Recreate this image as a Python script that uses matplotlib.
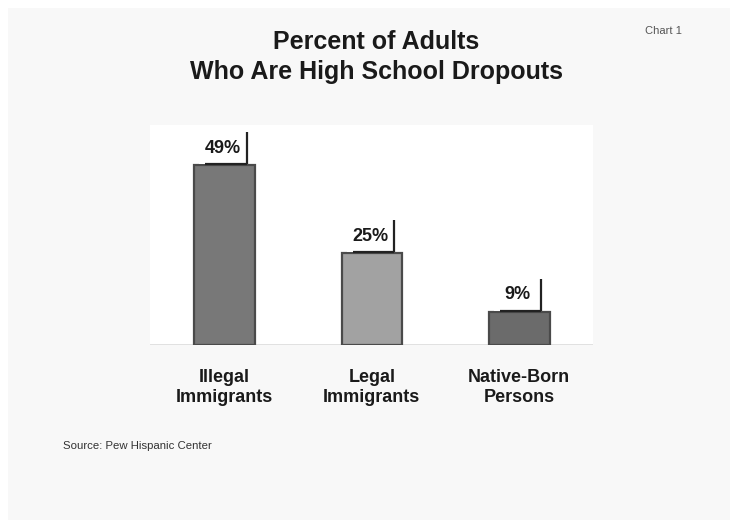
import matplotlib
matplotlib.use("Agg")
import matplotlib.pyplot as plt
from matplotlib.patches import Rectangle

plt.rcParams["font.family"] = ["Liberation Sans", "DejaVu Sans"]

# Data
categories = ["Illegal\nImmigrants", "Legal\nImmigrants", "Native-Born\nPersons"]
values = [49, 25, 9]
bar_colors = ["#787878", "#a2a2a2", "#6b6b6b"]

fig = plt.figure(figsize=(7.3, 5.2), dpi=100, facecolor="white")

# light grey page panel behind everything
fig.patches.append(Rectangle((8 / 730, 0), 1, 1 - 8 / 520, transform=fig.transFigure,
                             facecolor="#f8f8f8", edgecolor="none", zorder=-10))

W, H = 730, 520
left, right, top, bottom = 150, 593, 125, 345
ax = fig.add_axes([left / W, 1 - bottom / H, (right - left) / W, (bottom - top) / H])
ax.set_facecolor("white")

x = list(range(len(values)))
ax.bar(x, values, width=0.41, color=bar_colors, edgecolor="#4a4a4a", linewidth=1.6, zorder=3)

ax.set_xlim(-0.505, 2.5)
ax.set_ylim(0, 60)
for s in ax.spines.values():
    s.set_visible(False)
ax.axhline(0.1, color="#dcdcdc", lw=1.2, zorder=2)
ax.set_xticks(x)
ax.set_xticklabels(categories, fontsize=13, fontweight="bold", color="#1a1a1a",
                   linespacing=1.25)
ax.tick_params(axis="x", length=0, pad=17)
ax.set_yticks([])

# value callouts: white box with dark right/bottom edges
for xi, v in zip(x, values):
    y0, y1 = v + 0.35, v + 9.0
    ax.add_patch(Rectangle((xi - 0.17, y0), 0.32, y1 - y0, facecolor="white",
                           edgecolor="none", zorder=4))
    ax.plot([xi + 0.15, xi + 0.15], [y0, y1], color="#222222", lw=1.6, zorder=5,
            solid_capstyle="butt")
    ax.plot([xi - 0.13, xi + 0.15], [y0, y0], color="#222222", lw=1.6, zorder=5,
            solid_capstyle="butt")
    ax.text(xi - 0.01, v + 4.7, f"{v}%", ha="center", va="center", fontsize=13,
            fontweight="bold", color="#1a1a1a", zorder=6)

fig.text(376 / W, 1 - 42 / H, "Percent of Adults", ha="center", va="center",
         fontsize=18, fontweight="bold", color="#1a1a1a")
fig.text(376 / W, 1 - 72 / H, "Who Are High School Dropouts", ha="center", va="center",
         fontsize=18, fontweight="bold", color="#1a1a1a")
fig.text(645 / W, 1 - 31 / H, "Chart 1", ha="left", va="center", fontsize=8,
         color="#555555")
fig.text(63 / W, 1 - 446 / H, "Source: Pew Hispanic Center", ha="left", va="center",
         fontsize=8.2, color="#333333")

fig.savefig("out.png", dpi=100, facecolor=fig.get_facecolor())
